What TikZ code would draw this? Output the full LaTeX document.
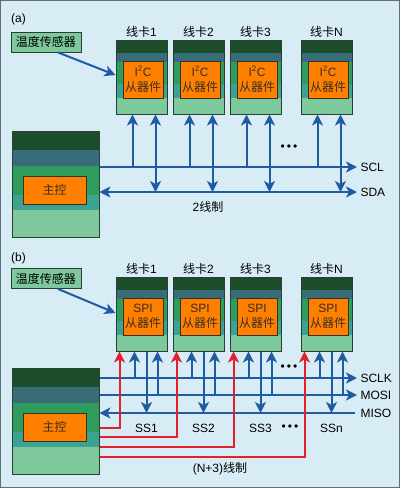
\documentclass[tikz,border=0pt]{standalone}
\usepackage{fontspec}
\setmainfont{Liberation Sans}
\newfontfamily\cjk{Noto Sans CJK SC}
\usetikzlibrary{arrows.meta}

\definecolor{bg}{HTML}{D7ECF5}
\definecolor{framegray}{HTML}{5E6E74}
\definecolor{cardline}{HTML}{2C3D33}
\definecolor{boxline}{HTML}{3A2E1E}
\definecolor{dkgreen}{HTML}{1B4D2B}
\definecolor{tealblue}{HTML}{376C78}
\definecolor{midgreen}{HTML}{2E9C5B}
\definecolor{tealgreen}{HTML}{3CA392}
\definecolor{ltgreen}{HTML}{7DC99B}
\definecolor{slaveorange}{HTML}{FF8000}
\definecolor{busblue}{HTML}{1F5BA3}
\definecolor{selred}{HTML}{E3202B}

\begin{document}
\begin{tikzpicture}[x=1pt, y=-1pt,
    font=\fontsize{12}{14}\selectfont,
    >={Stealth[length=11pt,width=11pt,inset=3pt]},
    stack/.style n args={4}{path picture={
        \fill[ltgreen] (path picture bounding box.north west) rectangle (path picture bounding box.south east);
        \fill[tealgreen] (path picture bounding box.north west) rectangle ([yshift=-#4]path picture bounding box.north east);
        \fill[midgreen] (path picture bounding box.north west) rectangle ([yshift=-#3]path picture bounding box.north east);
        \fill[tealblue] (path picture bounding box.north west) rectangle ([yshift=-#2]path picture bounding box.north east);
        \fill[dkgreen] (path picture bounding box.north west) rectangle ([yshift=-#1]path picture bounding box.north east);}},
    card/.style={draw=cardline, line width=1pt, minimum width=51pt, minimum height=74pt, inner sep=0pt, stack={13pt}{22pt}{44pt}{58pt}},
    master/.style={draw=cardline, line width=1pt, minimum width=87pt, minimum height=106pt, inner sep=0pt, stack={19pt}{35pt}{64pt}{79pt}},
    slave/.style={draw=boxline, line width=0.9pt, fill=slaveorange, text=boxline, minimum width=40pt, minimum height=37pt, inner sep=0pt, align=center, font=\fontsize{12}{15.5}\selectfont},
    ctrl/.style={draw=boxline, line width=0.9pt, fill=slaveorange, text=boxline, minimum width=63pt, minimum height=28pt, inner sep=0pt},
    sensor/.style={draw=cardline, line width=0.9pt, fill=ltgreen, minimum width=70pt, minimum height=20pt, inner sep=0pt},
    bus/.style={busblue, line width=2pt},
    sel/.style={selred, line width=2pt}]
    \useasboundingbox (0,0) rectangle (400,488);
    \fill[bg] (0,0) rectangle (400,488);
    \draw[framegray] (0.5,0.5) rectangle (399.5,487.5);

    % Panel (a): I2C
    \node (tagA) at (18.5,19) {(a)};
    \node[sensor] (sensA) at (46,42) {\cjk 温度传感器};
    \node[master] (mastA) at (55.5,184) {};
    \node[ctrl] (ctrlA) at (54.5,190) {\cjk 主控};

    % Bus lines
    \coordinate (sclA) at (357,167);
    \coordinate (sdaA) at (357,192);
    \draw[bus,->] (mastA.east |- sclA) -- (sclA);
    \draw[bus,<->] (mastA.east |- sdaA) -- (sdaA);
    \node[right] (lsclA) at (sclA) {SCL};
    \node[right] (lsdaA) at (sdaA) {SDA};

    % Line cards
    \foreach \i/\x in {1/116,2/173,3/230,N/301}{
        \node[card] (ca\i) at (\x+25.5,77) {};
        \node[slave] (sa\i) at (\x+27,79.5) {I\textsuperscript{2}C\\{\cjk 从器件}};
        \node (la\i) at (\x+25.5,32) {{\cjk 线卡}\i};
        \coordinate (ka\i) at ([xshift=17pt]ca\i.south west);
        \coordinate (da\i) at ([xshift=40pt]ca\i.south west);
        \draw[bus,->] (ka\i |- sclA) -- (ka\i);
        \draw[bus,<->] (da\i) -- (da\i |- sdaA);
    }
    \draw[bus,->] ([xshift=12pt]sensA.south) -- ([yshift=2pt]ca1.west);
    \node (dotsA) at (289,148) {\textbullet\hspace{2pt}\textbullet\hspace{2pt}\textbullet};
    \node (wireA) at (208,207) {2{\cjk 线制}};

    % Panel (b): SPI
    \node (tagB) at (18.5,258) {(b)};
    \node[sensor] (sensB) at (46,278.5) {\cjk 温度传感器};
    \node[master] (mastB) at (55.5,421) {};
    \node[ctrl] (ctrlB) at (54.5,427) {\cjk 主控};

    % Bus lines
    \coordinate (sclkB) at (357,378);
    \coordinate (mosiB) at (357,395);
    \coordinate (misoB) at (355,413);
    \draw[bus,->] (mastB.east |- sclkB) -- (sclkB);
    \draw[bus,->] (mastB.east |- mosiB) -- (mosiB);
    \draw[bus,->] (misoB) -- (mastB.east |- misoB);
    \node[right] (lsclkB) at (sclkB) {SCLK};
    \node[right] (lmosiB) at (mosiB) {MOSI};
    \node[right] (lmisoB) at ([xshift=2pt]misoB) {MISO};

    % Line cards
    \foreach \i/\x/\ry/\s in {1/116/428/SS1,2/173/437/SS2,3/230/447/SS3,N/301/457/SSn}{
        \node[card] (cb\i) at (\x+25.5,314) {};
        \node[slave] (sb\i) at (\x+27,316.5) {SPI\\{\cjk 从器件}};
        \node (lb\i) at (\x+25.5,269) {{\cjk 线卡}\i};
        \coordinate (rb\i) at ([xshift=4pt]cb\i.south west);
        \coordinate (kb\i) at ([xshift=19pt]cb\i.south west);
        \coordinate (ob\i) at ([xshift=31pt]cb\i.south west);
        \coordinate (mb\i) at ([xshift=42pt]cb\i.south west);
        \draw[bus,->] (kb\i |- sclkB) -- (kb\i);
        \draw[bus,->] (mb\i |- mosiB) -- (mb\i);
        \draw[bus,->] (ob\i) -- (ob\i |- misoB);
        \draw[sel,->] (mastB.east |- 0,\ry) -- (rb\i |- 0,\ry) -- (rb\i);
        \node (ssb\i) at (ob\i |- 0,428) {\s};
    }
    \draw[bus,->] ([xshift=12pt]sensB.south) -- ([yshift=1pt]cb1.west);
    \node (dotsB) at (289,368) {\textbullet\hspace{2pt}\textbullet\hspace{2pt}\textbullet};
    \node (dotsS) at (290,428) {\textbullet\hspace{2pt}\textbullet\hspace{2pt}\textbullet};
    \node (wireB) at (220,469) {(N+3){\cjk 线制}};
\end{tikzpicture}
\end{document}
